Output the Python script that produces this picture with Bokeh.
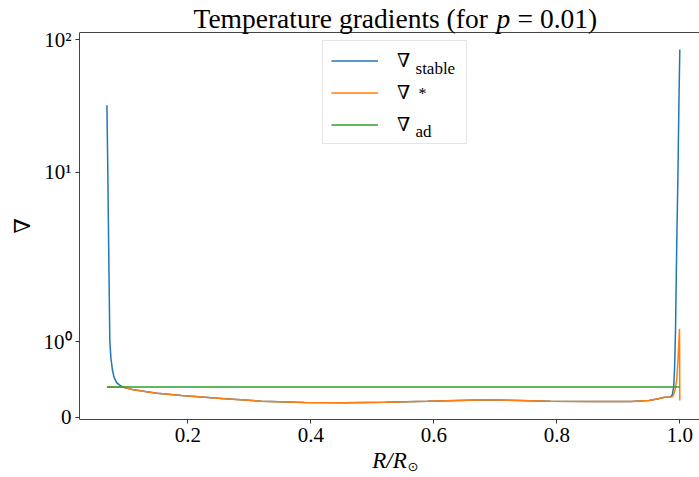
import math
from bokeh.plotting import figure
from bokeh.models import (FixedTicker, Legend, LegendItem, Label, Range1d, Span)
from bokeh.embed import file_html
from bokeh.resources import INLINE

# ---- data ----
r_stable = [0.0685, 0.0690, 0.0695, 0.0700, 0.0708, 0.0718, 0.0732, 0.0750, 0.0775,
            0.0800, 0.0840, 0.0880, 0.0920, 0.0960, 0.1000, 0.1100, 0.1250, 0.1500,
            0.1900, 0.2600, 0.3200, 0.3900, 0.4560, 0.5200, 0.5900, 0.6560, 0.6900,
            0.7200, 0.7900, 0.8550, 0.9200, 0.9500, 0.9650, 0.9750, 0.9850, 0.9880,
            0.9900, 0.9915, 0.9930, 0.9950, 0.9970, 0.9985, 1.0000]
nabla_stable = [29.5, 20.0, 14.0, 9.5, 5.0, 2.5, 1.0, 0.78, 0.62,
                0.53, 0.46, 0.43, 0.41, 0.395, 0.385, 0.365, 0.345, 0.315,
                0.287, 0.243, 0.211, 0.194, 0.190, 0.198, 0.211, 0.225, 0.230,
                0.225, 0.211, 0.207, 0.207, 0.222, 0.245, 0.264, 0.268, 0.30,
                0.40, 0.65, 1.15, 3.5, 10.0, 30.0, 82.0]

r_star = [0.0685, 0.0960, 0.1000, 0.1100, 0.1250, 0.1500, 0.1900, 0.2600, 0.3200,
          0.3900, 0.4560, 0.5200, 0.5900, 0.6560, 0.6900, 0.7200, 0.7900, 0.8550,
          0.9200, 0.9500, 0.9650, 0.9750, 0.9850, 0.9880, 0.9900, 0.9925, 0.9950,
          0.9970, 0.9985, 0.9995, 1.0000]
nabla_star = [0.40, 0.395, 0.385, 0.365, 0.345, 0.315, 0.287, 0.243, 0.211,
              0.194, 0.190, 0.198, 0.211, 0.225, 0.230, 0.225, 0.211, 0.207,
              0.207, 0.222, 0.245, 0.264, 0.268, 0.27, 0.30, 0.37, 0.50,
              0.75, 1.00, 1.17, 0.22]

r_ad = [0.0685, 1.0000]
nabla_ad = [0.40, 0.40]

x_ticks = [0.2, 0.4, 0.6, 0.8, 1.0]
x_tick_labels = ["0.2", "0.4", "0.6", "0.8", "1.0"]
y_ticks = [0, 1, 10, 100]
y_tick_labels = ["0", "10\u2070", "10\u00b9", "10\u00b2"]


# ---- y scale of the reference: linear below 1, compressed log above ----
def yscale(v):
    if v <= 1.0:
        return 75.7 * v
    L = math.log10(v)
    return 75.7 + 187.6 * L - 18.3 * L * L


def ys(vals):
    return [yscale(v) for v in vals]


SERIF = "Liberation Serif"
Y_LO, Y_HI = -2.3, 384.7          # visible axes box (in scaled units)

p = figure(width=699, height=477, output_backend="svg", toolbar_location=None,
           x_range=Range1d(0.0239, 1.0320), y_range=Range1d(-60.3, 416.7),
           min_border_left=79, min_border_right=0, min_border_top=0,
           min_border_bottom=0)
p.title.visible = False
p.outline_line_color = None
p.grid.visible = False
p.background_fill_color = "white"

# axes
p.xaxis.ticker = FixedTicker(ticks=x_ticks)
p.xaxis.major_label_overrides = {t: s for t, s in zip(x_ticks, x_tick_labels)}
p.xaxis.fixed_location = Y_LO
yt = [yscale(v) for v in y_ticks]
p.yaxis.ticker = FixedTicker(ticks=yt)
p.yaxis.major_label_overrides = {t: s for t, s in zip(yt, y_tick_labels)}
p.yaxis.bounds = (Y_LO, Y_HI)
for ax in (p.xaxis, p.yaxis):
    ax.minor_tick_line_color = None
    ax.major_tick_in = 0
    ax.major_tick_out = 4
    ax.major_tick_line_color = "#333333"
    ax.axis_line_color = "#444444"
    ax.major_label_text_font = SERIF
    ax.major_label_text_font_size = "21px"
    ax.major_label_text_color = "black"
    ax.major_label_standoff = 4
# leading em + thin space lift the rotated symbol to the centre of the axes box
p.yaxis.axis_label = "\u2003\u2009\u2207"
p.yaxis.axis_label_text_font = "DejaVu Serif"
p.yaxis.axis_label_text_font_style = "normal"
p.yaxis.axis_label_text_font_size = "22px"
p.yaxis.axis_label_text_color = "black"
p.yaxis.axis_label_standoff = 6

p.xaxis.axis_label = "R/R"
p.xaxis.axis_label_text_font = SERIF
p.xaxis.axis_label_text_font_style = "italic"
p.xaxis.axis_label_text_font_size = "23px"
p.xaxis.axis_label_text_color = "black"
p.xaxis.axis_label_standoff = 3

# top spine
p.add_layout(Span(location=Y_HI, dimension="width", line_color="#444444",
                  line_width=1))

# lines
colors = ["#1f77b4", "#ff7f0e", "#2ca02c"]
r1 = p.line(r_stable, ys(nabla_stable), line_color=colors[0], line_width=1.5)
r2 = p.line(r_star, ys(nabla_star), line_color=colors[1], line_width=1.5)
r3 = p.line(r_ad, ys(nabla_ad), line_color=colors[2], line_width=1.5)

legend = Legend(items=[LegendItem(label="\u2207", renderers=[r1]),
                       LegendItem(label="\u2207", renderers=[r2]),
                       LegendItem(label="\u2207", renderers=[r3])],
                location=(243, 333), padding=8, spacing=10, label_height=19,
                glyph_height=19, glyph_width=47, label_width=61, label_standoff=19,
                label_text_font="DejaVu Serif", label_text_font_size="19px",
                label_text_color="black", background_fill_color=None,
                border_line_color="#cccccc", margin=0)
p.add_layout(legend)


def px2x(xi):
    return (xi - 64.3) / 615.0


def px2y(yi):
    return 416.7 - yi


def lab(text, xi, yi, size, font=SERIF, style="normal", align="left"):
    # yi: wanted baseline in picture pixels; Bokeh draws the text a little
    # lower than the alphabetic baseline, so lift it by about a third of the size
    p.add_layout(Label(x=px2x(xi), y=px2y(yi - 0.32 * size), text=text,
                       text_font=font, text_font_style=style,
                       text_font_size=f"{size}px", text_align=align,
                       text_baseline="alphabetic", text_color="black"))


# legend sub/superscripts
lab("stable", 415, 73.3, 17)
lab("*", 418, 98, 16)
lab("ad", 415, 136.7, 17)

# title
lab("Temperature gradients (for", 193, 26.7, 27.5)
lab("p", 496, 26.7, 27.5, style="italic")
lab("= 0.01)", 517, 26.7, 27.5)

# solar subscript of the x axis label
lab("\u2299", 407, 470.5, 13, font="DejaVu Sans")

open("out.html", "w").write(file_html(p, INLINE))
